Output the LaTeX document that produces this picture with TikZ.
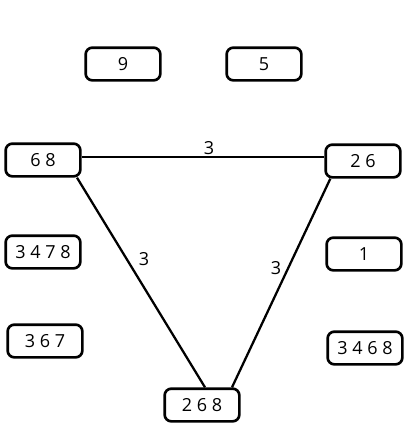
\documentclass[tikz,border=0pt]{standalone}
\usepackage{fontspec}
\setmainfont{Open Sans}
\begin{document}
\begin{tikzpicture}[x=0.75pt,y=-0.75pt,
  box/.style={draw, line width=2pt, rounded corners=5pt, minimum width=56pt, minimum height=24.5pt, inner sep=0pt, font=\fontsize{13.5}{15}\selectfont},
  edge/.style={line width=1.7pt},
  elabel/.style={font=\fontsize{13.5}{15}\selectfont, inner sep=0pt}]
\useasboundingbox (0,0) rectangle (416,447);
\node[box] (n9) at (123,64) {9};
\node[box] (n5) at (264,64) {5};
\node[box] (n68) at (43,160) {6 8};
\node[box] (n26) at (363,161) {2 6};
\node[box] (n3478) at (43,252) {3 4 7 8};
\node[box] (n1) at (364,254) {1};
\node[box] (n367) at (45,341) {3 6 7};
\node[box] (n3468) at (365,348) {3 4 6 8};
\node[box] (n268) at (202,405) {2 6 8};
\draw[edge] ([yshift=2.25pt]n68.east) -- ([yshift=3pt]n26.west);
\draw[edge] ([xshift=-3.5pt]n68.south east) -- ([xshift=2.25pt]n268.north);
\draw[edge] ([xshift=4.5pt]n26.south west) -- ([xshift=22.5pt]n268.north);
\node[elabel] (l1) at (209,148) {3};
\node[elabel] (l2) at (144,259) {3};
\node[elabel] (l3) at (276,268) {3};
\end{tikzpicture}
\end{document}
